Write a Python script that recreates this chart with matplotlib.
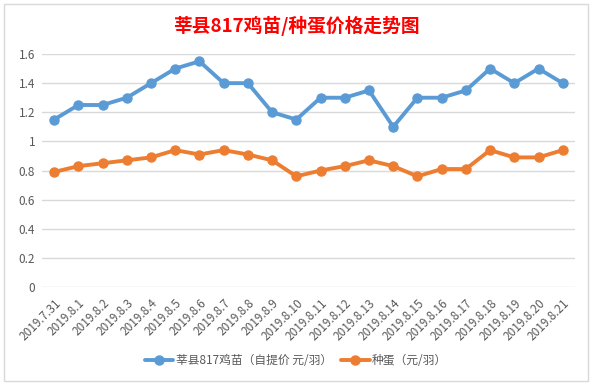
import matplotlib
matplotlib.use("Agg")
import matplotlib.pyplot as plt
from matplotlib.patches import Rectangle
from matplotlib.ticker import FuncFormatter

plt.rcParams["font.family"] = ["Noto Sans CJK SC", "DejaVu Sans"]

dates = [
    "2019.7.31", "2019.8.1", "2019.8.2", "2019.8.3", "2019.8.4", "2019.8.5",
    "2019.8.6", "2019.8.7", "2019.8.8", "2019.8.9", "2019.8.10", "2019.8.11",
    "2019.8.12", "2019.8.13", "2019.8.14", "2019.8.15", "2019.8.16",
    "2019.8.17", "2019.8.18", "2019.8.19", "2019.8.20", "2019.8.21",
]
chick_price = [1.15, 1.25, 1.25, 1.30, 1.40, 1.50, 1.55, 1.40, 1.40, 1.20, 1.15,
               1.30, 1.30, 1.35, 1.10, 1.30, 1.30, 1.35, 1.50, 1.40, 1.50, 1.40]
egg_price = [0.79, 0.83, 0.85, 0.87, 0.89, 0.94, 0.91, 0.94, 0.91, 0.87, 0.76,
             0.80, 0.83, 0.87, 0.83, 0.76, 0.81, 0.81, 0.94, 0.89, 0.89, 0.94]

title = "莘县817鸡苗/种蛋价格走势图"
chick_label = "莘县817鸡苗（自提价 元/羽）"
egg_label = "种蛋（元/羽）"

blue = "#5B9BD5"
orange = "#ED7D31"
grey_text = "#595959"

fig = plt.figure(figsize=(5.92, 3.86), dpi=100)
fig.patches.append(Rectangle((0.006, 0.012), 0.988, 0.978, transform=fig.transFigure,
                             fill=False, edgecolor="#D9D9D9", linewidth=1))
ax = fig.add_axes([0.071, 0.2565, 0.900, 0.6035])

x = range(len(dates))
ax.plot(x, chick_price, color=blue, linewidth=2.8, marker="o", markersize=6.5,
        label=chick_label, solid_capstyle="round")
ax.plot(x, egg_price, color=orange, linewidth=2.8, marker="o", markersize=6.5,
        label=egg_label, solid_capstyle="round")

ax.set_xlim(-0.5, len(dates) - 0.5)
ax.set_ylim(0, 1.6)
ax.set_yticks([0, 0.2, 0.4, 0.6, 0.8, 1.0, 1.2, 1.4, 1.6])
ax.yaxis.set_major_formatter(FuncFormatter(lambda v, p: f"{v:g}"))
ax.grid(axis="y", color="#D9D9D9", linewidth=1)
ax.set_axisbelow(True)
for s in ax.spines.values():
    s.set_visible(False)
ax.tick_params(axis="both", length=0, colors=grey_text, labelsize=8.5)
ax.tick_params(axis="y", pad=5)

ax.set_xticks(list(x))
ax.set_xticklabels(dates, rotation=45, ha="right", va="top",
                   rotation_mode="anchor", fontsize=8.5, color=grey_text)
ax.tick_params(axis="x", pad=7)

fig.text(0.5, 0.932, title, ha="center", va="center", color="red",
         fontsize=13.5, fontweight="bold")

leg = fig.legend(loc="center", bbox_to_anchor=(0.5, 0.065), ncol=2, frameon=False,
                 fontsize=8.5, handlelength=2.4, columnspacing=0.8,
                 handletextpad=0.2)
for t in leg.get_texts():
    t.set_color(grey_text)

fig.savefig("out.png", dpi=100)
